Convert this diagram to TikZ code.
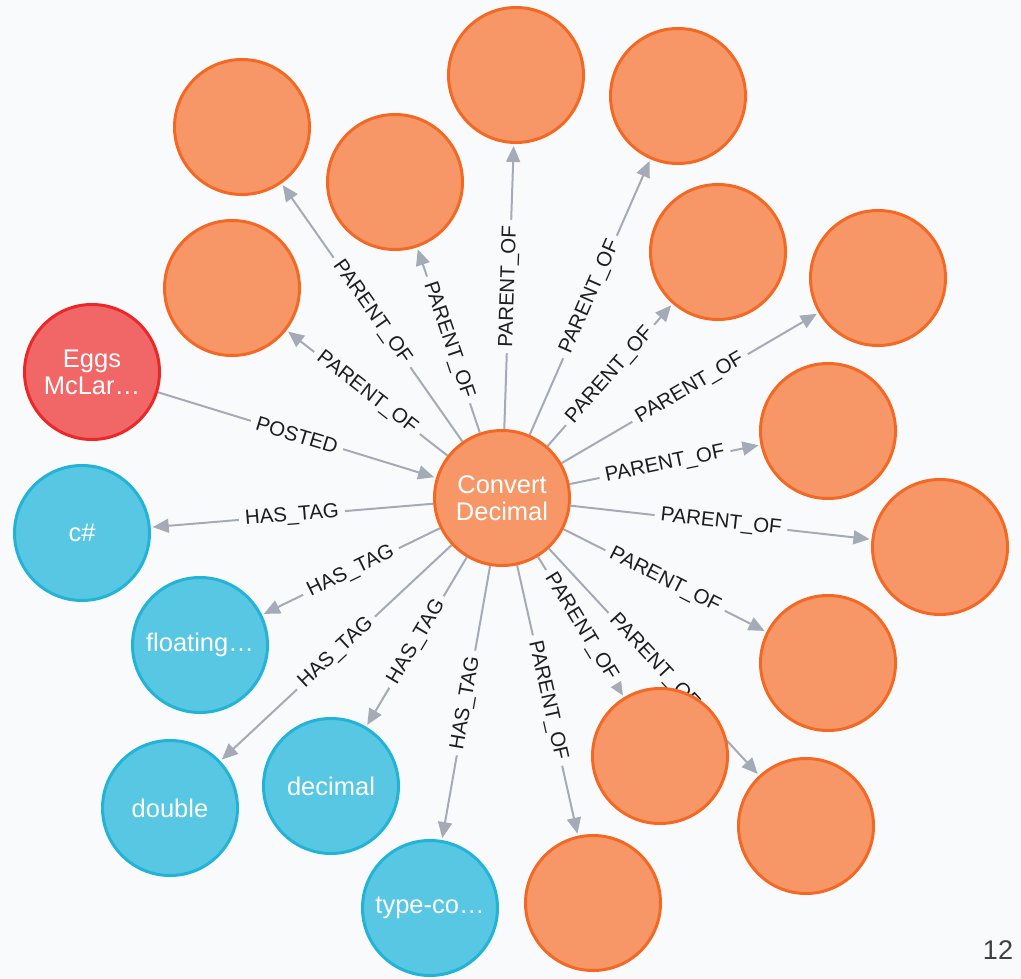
\documentclass[tikz,border=0pt]{standalone}
\usepackage{fontspec}
\setmainfont{Liberation Sans}
\usetikzlibrary{arrows.meta,backgrounds}
\definecolor{figbg}{HTML}{F9FAFC}
\definecolor{postfill}{HTML}{F79767}
\definecolor{postline}{HTML}{F36924}
\definecolor{userfill}{HTML}{F16667}
\definecolor{userline}{HTML}{EB2728}
\definecolor{tagfill}{HTML}{57C7E3}
\definecolor{tagline}{HTML}{23B3D7}
\definecolor{edgecol}{HTML}{A5ABB6}
\definecolor{labelcol}{HTML}{1E1E22}

\begin{document}
\begin{tikzpicture}[
    x=1pt, y=-1pt,
    font=\fontsize{20.5}{22}\selectfont,
    gnode/.style={circle, line width=3pt, minimum size=135pt, inner sep=0pt,
        align=center, text=white, font=\fontsize{25.5}{27}\selectfont},
    post/.style={gnode, draw=postline, fill=postfill},
    user/.style={gnode, draw=userline, fill=userfill},
    tag/.style={gnode, draw=tagline, fill=tagfill},
    edge/.style={draw=edgecol, line width=2pt, shorten >=2pt,
        -{Triangle[length=16pt, width=14pt]}},
    elabel/.style={sloped, fill=figbg, text=labelcol, inner xsep=6pt, inner ysep=1pt}
]
    \useasboundingbox (0,0) rectangle (1021,979);

    \node[post] (convert) at (502,498) {Convert\\Decimal};
    \node[user] (eggs) at (92,372) {Eggs\\McLar\ldots};

    \node[tag] (csharp) at (82,533) {c\#};
    \node[tag] (floating) at (200,645) {floating\ldots};
    \node[tag] (double) at (170,808) {double};
    \node[tag] (decimal) at (331,786) {decimal};
    \node[tag] (typeco) at (430,908) {type-co\ldots};

    \node[post] (child1) at (242,127) {};
    \node[post] (child2) at (395,182) {};
    \node[post] (child3) at (516,75) {};
    \node[post] (child4) at (678,96) {};
    \node[post] (child5) at (232,288) {};
    \node[post] (child6) at (718,252) {};
    \node[post] (child7) at (878,278) {};
    \node[post] (child8) at (828,431) {};
    \node[post] (child9) at (940,547) {};
    \node[post] (child10) at (828,663) {};
    \node[post] (child12) at (806,826) {};
    \node[post] (child11) at (660,756) {};
    \node[post] (child13) at (593,903) {};

    \node[text=black!75, font=\fontsize{27}{29}\selectfont] (pageno) at (998,950) {12};

    \begin{scope}[on background layer]
        \fill[figbg] (0,0) rectangle (1021,979);
        \draw[edge] (eggs) -- node[elabel] {POSTED} (convert);
        \foreach \t in {csharp,floating,double,decimal,typeco}
            \draw[edge] (convert) -- node[elabel] {HAS\_TAG} (\t);
        \foreach \c in {1,...,13}
            \draw[edge] (convert) -- node[elabel] {PARENT\_OF} (child\c);
    \end{scope}
\end{tikzpicture}
\end{document}
